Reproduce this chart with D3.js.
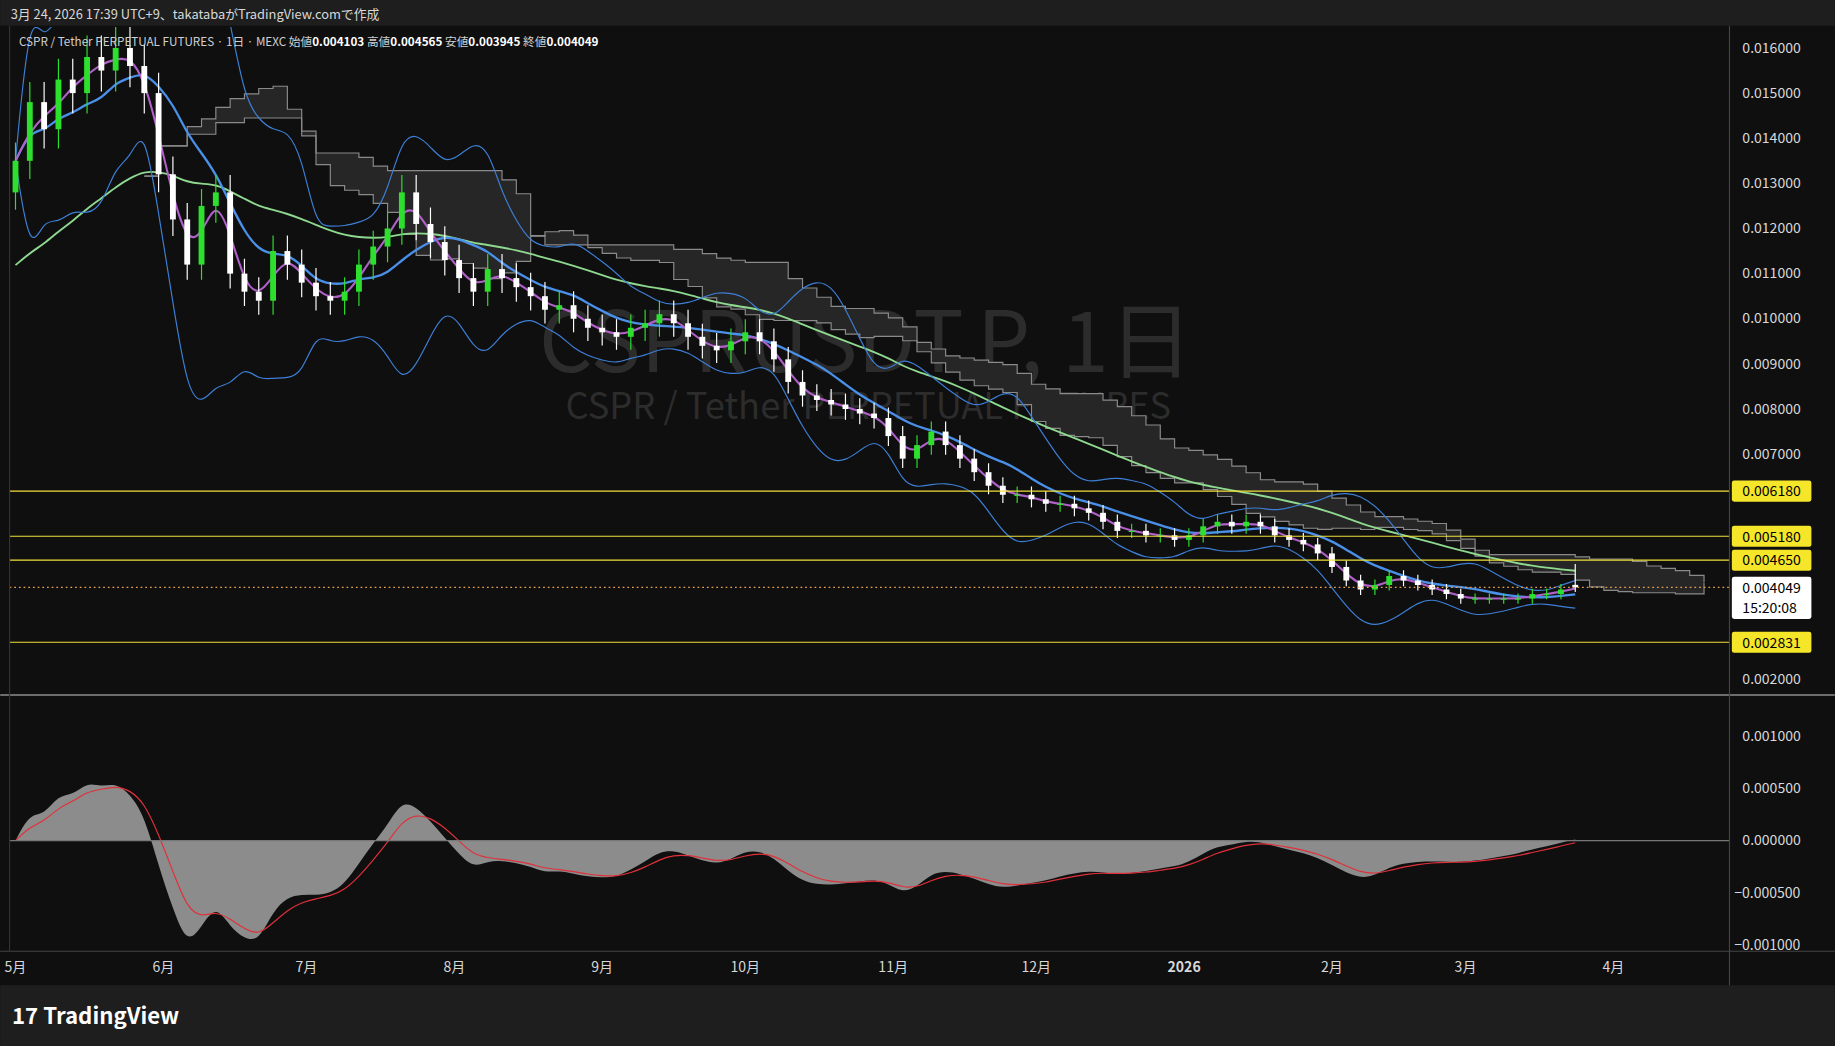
<!DOCTYPE html>
<html><head><meta charset="utf-8">
<script src="https://cdn.jsdelivr.net/npm/d3@7"></script>
<style>body{margin:0;background:#0f0f0f;overflow:hidden}text{font-family:"Noto Sans CJK JP","Noto Sans",sans-serif}</style>
</head><body>
<svg id="c" width="1835" height="1046" viewBox="0 0 1568 894"></svg>
<script>
// 3-day sampled closes, starting 2025-05-01
const closes=[.0135,.0148,.0142,.0153,.0150,.0158,.0155,.0160,.0156,.0150,.0132,.0122,.0112,.0125,.0128,.0110,.0106,.0104,.0115,.0112,.0108,.0105,.0104,.0106,.0112,.0116,.0120,.0128,.0121,.0117,.0113,.0109,.0106,.0111,.0109,.0107,.0105,.0102,.0103,.0100,.0098,.0097,.0096,.0098,.0099,.0101,.0099,.0096,.0094,.0093,.0095,.0097,.0095,.0091,.0086,.0083,.0082,.0081,.0080,.0079,.0078,.0074,.0069,.0072,.0075,.0072,.0069,.0066,.0063,.0061,.0061,.0060,.0059,.0059,.0058,.0057,.0055,.0053,.0053,.0052,.0052,.0051,.0052,.0054,.0055,.0054,.0055,.0054,.0052,.0051,.0050,.0048,.0045,.0042,.0040,.0041,.0043,.0042,.0041,.0040,.0039,.0038,.0038,.0038,.0038,.0038,.0039,.0039,.0040,.004049];
const firstOpen=0.0128;
const priceTicks=[0.002,0.003,0.004,0.005,0.006,0.007,0.008,0.009,0.010,0.011,0.012,0.013,0.014,0.015,0.016];
const levels=[0.00618,0.00518,0.00465,0.002831];
const macdTicks=[0.001,0.0005,0,-0.0005,-0.001];
const months=[["5月","2025-05-01"],["6月","2025-06-01"],["7月","2025-07-01"],["8月","2025-08-01"],["9月","2025-09-01"],["10月","2025-10-01"],["11月","2025-11-01"],["12月","2025-12-01"],["2026","2026-01-01"],["2月","2026-02-01"],["3月","2026-03-01"],["4月","2026-04-01"]];
const lastO=0.004103,lastH=0.004565,lastL=0.003945;

const svg=d3.select("#c");
const L=8,R=1478;
svg.append("rect").attr("width",1568).attr("height",894).attr("fill","#0f0f0f");
svg.append("rect").attr("width",1568).attr("height",22).attr("fill","#1e1e1e");
svg.append("rect").attr("y",842).attr("width",1568).attr("height",52).attr("fill","#1e1e1e");
const start=new Date("2025-05-01"),DAY=864e5;
const x=d3.scaleTime().domain([new Date("2025-04-30"),new Date("2026-04-30")]).range([9,1497]);
const y=d3.scaleLinear().domain([0.002,0.016]).range([581,41]);
const ym=d3.scaleLinear().domain([-0.001,0.001]).range([808,629]);
const dt=i=>new Date(+start+i*3*DAY);
const n=closes.length;
const data=closes.map((c,i)=>{const o=i?closes[i-1]:firstOpen;return{o,c,h:Math.max(o,c)*1.03,l:Math.min(o,c)*0.97,d:dt(i)}});
data[n-1].o=lastO;data[n-1].h=lastH;data[n-1].l=lastL;
svg.append("clipPath").attr("id","cp").append("rect").attr("x",L).attr("y",23).attr("width",R-L).attr("height",570);
const P=svg.append("g").attr("clip-path","url(#cp)");
P.append("text").attr("x",740).attr("y",318).attr("text-anchor","middle").attr("font-size",72).attr("fill","#2c2c2c").text("CSPRUSDT.P, 1日");
P.append("text").attr("x",742).attr("y",358).attr("text-anchor","middle").attr("font-size",31).attr("fill","#2c2c2c").text("CSPR / Tether PERPETUAL FUTURES");
const hh=(i,p)=>d3.max(data.slice(Math.max(0,i-p+1),i+1),d=>d.h),ll=(i,p)=>d3.min(data.slice(Math.max(0,i-p+1),i+1),d=>d.l);
const sh=9,cloud=[];
for(let i=0;i<n;i++){const t=(hh(i,3)+ll(i,3))/2,k=(hh(i,9)+ll(i,9))/2;cloud.push({d:dt(i+sh),a:(t+k)/2,b:(hh(i,17)+ll(i,17))/2});}
P.append("path").datum(cloud).attr("fill","#262626").attr("d",d3.area().x(d=>x(d.d)).y0(d=>y(d.a)).y1(d=>y(d.b)).curve(d3.curveStepAfter));
["a","b"].forEach(k=>P.append("path").datum(cloud).attr("fill","none").attr("stroke","#8a8a8a").attr("stroke-width",1).attr("d",d3.line().x(d=>x(d.d)).y(d=>y(d[k])).curve(d3.curveStepAfter)));
const sma=(p)=>closes.map((c,i)=>d3.mean(closes.slice(Math.max(0,i-p+1),i+1)));
const sd=(p)=>closes.map((c,i)=>d3.deviation(closes.slice(Math.max(0,i-p+1),i+1))||0);
const mid=sma(7),dev=sd(7);
const ln=d3.line().x((d,i)=>x(dt(i))).y(d=>y(d)).curve(d3.curveBasis);
let e=0.011;const long=closes.map(c=>e=e+(c-e)*0.075);
P.append("path").datum(long).attr("fill","none").attr("stroke","#8fd88f").attr("stroke-width",1.6).attr("d",ln);
P.append("path").datum(mid.map((m,i)=>m+3*dev[i])).attr("fill","none").attr("stroke","#3d7fd6").attr("stroke-width",1).attr("d",ln);
P.append("path").datum(mid.map((m,i)=>m-3*dev[i])).attr("fill","none").attr("stroke","#3d7fd6").attr("stroke-width",1).attr("d",ln);
P.append("path").datum(mid).attr("fill","none").attr("stroke","#4a90e8").attr("stroke-width",2).attr("d",ln);
P.append("path").datum(sma(2)).attr("fill","none").attr("stroke","#b060c8").attr("stroke-width",1.8).attr("d",ln);
const cg=P.append("g");
data.forEach(d=>{const col=d.c>=d.o?"#2ee02e":"#ffffff";const cx=x(d.d);
cg.append("line").attr("x1",cx).attr("x2",cx).attr("y1",y(d.h)).attr("y2",y(d.l)).attr("stroke",col);
cg.append("rect").attr("x",cx-2.5).attr("width",5).attr("y",y(Math.max(d.o,d.c))).attr("height",Math.max(1,Math.abs(y(d.o)-y(d.c)))).attr("fill",col);});
levels.forEach(v=>P.append("line").attr("x1",L).attr("x2",R).attr("y1",y(v)).attr("y2",y(v)).attr("stroke","#f2e03a").attr("stroke-width",1));
P.append("line").attr("x1",L).attr("x2",R).attr("y1",y(closes[n-1])).attr("y2",y(closes[n-1])).attr("stroke","#e8a050").attr("stroke-dasharray","1.5,2.5");
const ema=(arr,p)=>{let v=arr[0];const k=2/(p+1);return arr.map(a=>v=v+(a-v)*k)};
const e9=ema(closes,9);
const macd=ema(closes,4).map((v,i)=>v-e9[i]);
const sig=ema(macd,3);
svg.append("path").datum(macd).attr("fill","#8c8c8c").attr("d",d3.area().x((d,i)=>x(dt(i))).y0(ym(0)).y1(d=>ym(d)).curve(d3.curveBasis));
svg.append("path").datum(sig).attr("fill","none").attr("stroke","#e0303a").attr("stroke-width",1).attr("d",d3.line().x((d,i)=>x(dt(i))).y(d=>ym(d)).curve(d3.curveBasis));
svg.append("line").attr("x1",L).attr("x2",R).attr("y1",ym(0)).attr("y2",ym(0)).attr("stroke","#777");
svg.append("line").attr("x1",0).attr("x2",1568).attr("y1",594).attr("y2",594).attr("stroke","#cccccc");
svg.append("line").attr("x1",R).attr("x2",R).attr("y1",22).attr("y2",842).attr("stroke","#444");
svg.append("line").attr("x1",0).attr("x2",1568).attr("y1",813).attr("y2",813).attr("stroke","#444");
svg.append("line").attr("x1",L).attr("x2",L).attr("y1",22).attr("y2",813).attr("stroke","#333");
const busy=levels.concat([closes[n-1]]);
priceTicks.filter(v=>busy.every(b=>Math.abs(y(b)-y(v))>16)).forEach(v=>svg.append("text").attr("x",1489).attr("y",y(v)+4).attr("font-size",12).attr("fill","#d8d8d8").text(v.toFixed(6)));
macdTicks.forEach(v=>svg.append("text").attr("x",v<0?1482:1489).attr("y",ym(v)+4).attr("font-size",12).attr("fill","#d8d8d8").text(v===0?"0.000000":(v<0?"−":"")+Math.abs(v).toFixed(6)));
levels.forEach(v=>{svg.append("rect").attr("x",1480).attr("y",y(v)-9).attr("width",68).attr("height",18).attr("rx",2).attr("fill","#f5e62a");
svg.append("text").attr("x",1489).attr("y",y(v)+4.5).attr("font-size",12).attr("fill","#000").text(v.toFixed(6));});
const cy=y(closes[n-1]);
svg.append("rect").attr("x",1480).attr("y",cy-9).attr("width",68).attr("height",36).attr("rx",2).attr("fill","#ffffff");
svg.append("text").attr("x",1489).attr("y",cy+5).attr("font-size",12).attr("fill","#000").text("0.004049");
svg.append("text").attr("x",1489).attr("y",cy+22).attr("font-size",12).attr("fill","#000").text("15:20:08");
months.forEach(([t,d])=>svg.append("text").attr("x",x(new Date(d))).attr("y",831).attr("text-anchor","middle").attr("font-size",12).attr("font-weight",t==="2026"?"bold":"normal").attr("fill","#d8d8d8").text(t));
svg.append("text").attr("x",9).attr("y",16).attr("font-size",11).attr("fill","#d8d8d8").text("3月 24, 2026 17:39 UTC+9、takatabaがTradingView.comで作成");
const hd=svg.append("text").attr("x",16).attr("y",39).attr("font-size",10).attr("fill","#cfcfcf");
hd.append("tspan").text("CSPR / Tether PERPETUAL FUTURES · 1日 · MEXC  始値");
[["0.004103","  高値"],["0.004565","  安値"],["0.003945","  終値"],["0.004049",""]].forEach(([a,b])=>{hd.append("tspan").attr("font-weight","bold").attr("fill","#fff").text(a);hd.append("tspan").text(b);});
svg.append("text").attr("x",10).attr("y",875).attr("font-size",19).attr("font-weight","bold").attr("fill","#ffffff").text("17 TradingView");
</script></body></html>
